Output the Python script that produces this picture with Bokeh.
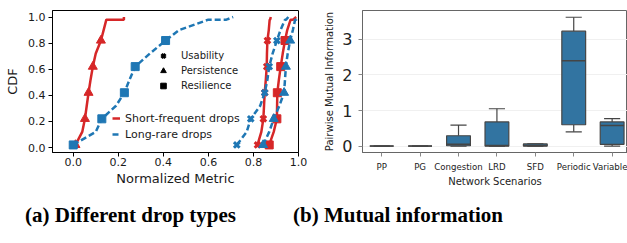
import numpy as np
from bokeh.plotting import figure
from bokeh.models import (Range1d, FixedTicker, PrintfTickFormatter, Legend,
                          LegendItem, Label, ColumnDataSource)
from bokeh.layouts import row, column
from bokeh.embed import file_html
from bokeh.resources import INLINE

# ---------------- panel (a): CDF of normalized metrics ----------------
cdf_levels = [0.02, 0.12, 0.22, 0.32, 0.42, 0.52, 0.62, 0.72, 0.82, 0.90, 0.98, 0.98, 1.0]
marker_idx = [0, 2, 4, 6, 8]

# short-frequent drops
sf_usability = [0.818, 0.835, 0.844, 0.847, 0.850, 0.855, 0.859, 0.860, 0.862, 0.868, 0.872, 0.874, 0.877]
sf_persistence = [0.010, 0.040, 0.052, 0.060, 0.068, 0.077, 0.087, 0.100, 0.123, 0.135, 0.147, 0.225, 0.225]
sf_resilience = [0.870, 0.890, 0.904, 0.905, 0.906, 0.913, 0.921, 0.930, 0.940, 0.950, 0.965, 0.975, 0.990]
# long-rare drops
lr_usability = [0.726, 0.770, 0.788, 0.830, 0.850, 0.862, 0.870, 0.885, 0.904, 0.920, 0.940, 0.945, 0.955]
lr_persistence = [0.843, 0.870, 0.890, 0.915, 0.936, 0.940, 0.944, 0.952, 0.963, 0.975, 0.985, 0.990, 0.995]
lr_resilience = [0.000, 0.100, 0.127, 0.190, 0.227, 0.250, 0.275, 0.340, 0.410, 0.470, 0.600, 0.680, 0.710]

metric_names = ["Usability", "Persistence", "Resilience"]
metric_markers = ["x", "triangle", "square"]
drop_types = ["Short-frequent drops", "Long-rare drops"]
x_ticks_a = [0.0, 0.2, 0.4, 0.6, 0.8, 1.0]
y_ticks_a = [0.0, 0.2, 0.4, 0.6, 0.8, 1.0]

# ---------------- panel (b): mutual information box plot ----------------
scenarios = ["PP", "PG", "Congestion", "LRD", "SFD", "Periodic", "Variable"]
mi_lower = [0.0, 0.0, 0.0, 0.0, 0.0, 0.40, 0.0]
mi_q1 = [0.0, 0.0, 0.01, 0.0, 0.0, 0.60, 0.05]
mi_median = [0.0, 0.0, 0.05, 0.02, 0.02, 2.40, 0.58]
mi_q3 = [0.0, 0.0, 0.29, 0.68, 0.06, 3.23, 0.68]
mi_upper = [0.0, 0.0, 0.59, 1.05, 0.06, 3.62, 0.77]
y_ticks_b = [0, 1, 2, 3]

captions = ["(a) Different drop types", "(b) Mutual information"]

RED = "#d62728"
BLUE = "#1f77b4"
FONT = "DejaVu Sans"

# ======================= figure (a) =======================
p1 = figure(width=310, height=202, x_range=Range1d(-0.092, 1.0),
            y_range=Range1d(-0.038, 1.05), output_backend="svg",
            toolbar_location=None, min_border_left=52, min_border_right=12,
            min_border_top=10, min_border_bottom=50)
p1.xgrid.visible = False
p1.ygrid.visible = False
p1.outline_line_color = "black"
p1.outline_line_width = 1
for ax in (p1.xaxis[0], p1.yaxis[0]):
    ax.axis_line_color = "black"
    ax.major_tick_line_color = "black"
    ax.minor_tick_line_color = None
    ax.major_tick_out = 4
    ax.major_tick_in = 0
    ax.major_label_text_font = FONT
    ax.major_label_text_font_size = "11px"
    ax.major_label_text_color = "#1a1a1a"
    ax.axis_label_text_font = FONT
    ax.axis_label_text_font_size = "13px"
    ax.axis_label_text_font_style = "normal"
    ax.axis_label_text_color = "#1a1a1a"
    ax.formatter = PrintfTickFormatter(format="%.1f")
p1.xaxis.ticker = FixedTicker(ticks=x_ticks_a)
p1.yaxis.ticker = FixedTicker(ticks=y_ticks_a)
p1.xaxis.axis_label = "Normalized Metric"
p1.yaxis.axis_label = "CDF"
p1.xaxis.major_label_standoff = 1
p1.yaxis.major_label_standoff = 3
p1.xaxis.axis_label_standoff = 2
p1.yaxis.axis_label_standoff = 5

lv = np.array(cdf_levels)
mi = np.array(marker_idx)
curve_sets = [
    (RED, "solid", [sf_usability, sf_persistence, sf_resilience]),
    (BLUE, "6 3", [lr_usability, lr_persistence, lr_resilience]),
]
line_renderers = []
for color, dash, curves in curve_sets:
    first = None
    for vals, mk in zip(curves, metric_markers):
        xv = np.array(vals)
        r = p1.line(xv, lv, line_color=color, line_width=2.5, line_dash=dash)
        if first is None:
            first = r
        if mk == "x":
            p1.scatter(xv[mi], lv[mi], marker=mk, size=8, line_color=color,
                       line_width=3)
        else:
            p1.scatter(xv[mi], lv[mi], marker=mk, size=9 if mk == "triangle" else 8,
                       fill_color=color, line_color=color)
    line_renderers.append(first)

# legend of metric markers (black); placeholder sources hold no visible point
dummy = []
for mk in metric_markers:
    src = ColumnDataSource(data=dict(x=[np.nan], y=[np.nan]))
    if mk == "x":
        dummy.append(p1.scatter("x", "y", source=src, marker=mk, size=8,
                                line_color="black", line_width=3))
    else:
        dummy.append(p1.scatter("x", "y", source=src, marker=mk,
                                size=9 if mk == "triangle" else 8,
                                fill_color="black", line_color="black"))

def style_legend(lg, font_size, gw, gh, standoff):
    lg.background_fill_alpha = 0
    lg.border_line_alpha = 0
    lg.padding = 0
    lg.margin = 0
    lg.spacing = 0
    lg.glyph_width = gw
    lg.glyph_height = gh
    lg.label_height = gh
    lg.label_standoff = standoff
    lg.label_text_font = FONT
    lg.label_text_font_size = font_size
    lg.label_text_color = "#1a1a1a"

leg_m = Legend(items=[LegendItem(label=n, renderers=[r]) for n, r in zip(metric_names, dummy)],
               location=(104, 59))
style_legend(leg_m, "10px", 14, 15, 11)
p1.add_layout(leg_m)

leg_d = Legend(items=[LegendItem(label=n, renderers=[r]) for n, r in zip(drop_types, line_renderers)],
               location=(60, 10))
style_legend(leg_d, "11px", 8, 16, 5)
p1.add_layout(leg_d)

# ======================= figure (b) =======================
p2 = figure(width=317, height=202, x_range=Range1d(-0.5, len(scenarios) - 0.6),
            y_range=Range1d(-0.18, 3.81), output_backend="svg",
            toolbar_location=None, min_border_left=52, min_border_right=0,
            min_border_top=4, min_border_bottom=47)
p2.xgrid.visible = False
p2.ygrid.grid_line_color = "#f0f0f0"
p2.ygrid.ticker = FixedTicker(ticks=y_ticks_b)
p2.outline_line_color = "#666666"
for ax in (p2.xaxis[0], p2.yaxis[0]):
    ax.axis_line_color = "#666666"
    ax.major_tick_line_color = "#888888"
    ax.minor_tick_line_color = None
    ax.major_tick_out = 4
    ax.major_tick_in = 0
    ax.major_label_text_font = FONT
    ax.major_label_text_color = "#222222"
    ax.axis_label_text_font = FONT
    ax.axis_label_text_font_size = "10px"
    ax.axis_label_text_font_style = "normal"
    ax.axis_label_text_color = "#222222"
xs = np.arange(len(scenarios))
p2.xaxis.ticker = FixedTicker(ticks=list(xs))
p2.xaxis.major_label_overrides = {int(i): s for i, s in zip(xs, scenarios)}
p2.xaxis.major_label_text_font_size = "8.6px"
p2.xaxis.major_label_standoff = 5
p2.xaxis.axis_label = "Network Scenarios"
p2.xaxis.axis_label_standoff = 1
p2.yaxis.ticker = FixedTicker(ticks=y_ticks_b)
p2.yaxis.formatter = PrintfTickFormatter(format="%d")
p2.yaxis.major_label_text_font_size = "16px"
p2.yaxis.major_label_standoff = 6
p2.yaxis.axis_label = "Pairwise Mutual Information"
p2.yaxis.axis_label_standoff = 4

BOX = "#3274a1"
EDGE = "#454545"
box_w = 0.62
cap_w = 0.42
p2.segment(x0=xs, y0=mi_q3, x1=xs, y1=mi_upper, line_color=EDGE, line_width=1.2)
p2.segment(x0=xs, y0=mi_q1, x1=xs, y1=mi_lower, line_color=EDGE, line_width=1.2)
p2.segment(x0=xs - cap_w / 2, y0=mi_upper, x1=xs + cap_w / 2, y1=mi_upper,
           line_color=EDGE, line_width=1.2)
p2.segment(x0=xs - cap_w / 2, y0=mi_lower, x1=xs + cap_w / 2, y1=mi_lower,
           line_color=EDGE, line_width=1.2)
p2.vbar(x=xs, bottom=mi_q1, top=mi_q3, width=box_w, fill_color=BOX,
        line_color=EDGE, line_width=1.2)
p2.segment(x0=xs - box_w / 2, y0=mi_median, x1=xs + box_w / 2, y1=mi_median,
           line_color=EDGE, line_width=1.5)

# ======================= captions =======================
pc = figure(width=627, height=41, x_range=Range1d(0, 627), y_range=Range1d(0, 41),
            output_backend="svg", toolbar_location=None, min_border=0)
pc.axis.visible = False
pc.grid.visible = False
pc.outline_line_color = None
for cx, txt in zip([130, 397.5], captions):
    pc.add_layout(Label(x=cx, y=29, text=txt, text_align="center",
                        text_baseline="middle", text_font="Liberation Serif",
                        text_font_style="bold", text_font_size="21px",
                        text_color="black"))

layout = column(row(p1, p2), pc)
open("out.html", "w").write(file_html(layout, INLINE))
